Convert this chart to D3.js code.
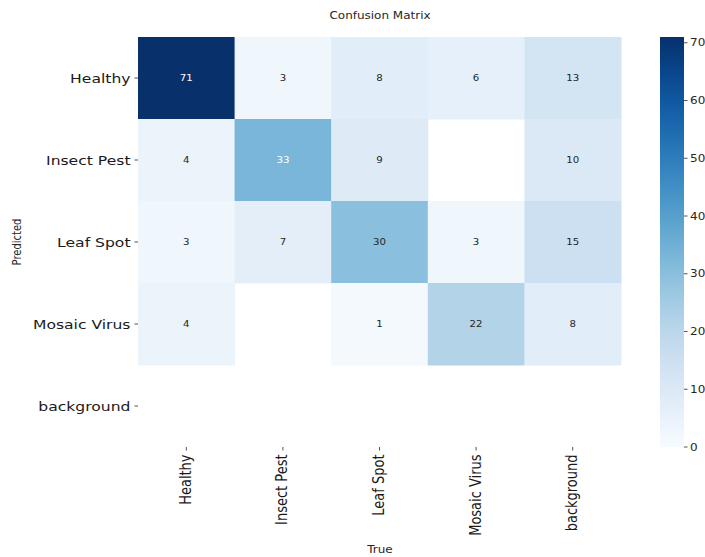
<!DOCTYPE html>
<html>
<head>
<meta charset="utf-8">
<script src="https://cdn.jsdelivr.net/npm/d3@7"></script>
<style>
  html, body { margin: 0; padding: 0; background: #fff; }
  text { font-family: "DejaVu Sans", sans-serif; }
</style>
</head>
<body>
<svg id="chart" width="705" height="557"></svg>
<script>
// ---- data ----
const predictedLabels = ["Healthy", "Insect Pest", "Leaf Spot", "Mosaic Virus", "background"];
const trueLabels = ["Healthy", "Insect Pest", "Leaf Spot", "Mosaic Virus", "background"];
// rows = Predicted, columns = True; null = 0 (masked / not drawn)
const rowHealthy     = [71, 3, 8, 6, 13];
const rowInsectPest  = [4, 33, 9, null, 10];
const rowLeafSpot    = [3, 7, 30, 3, 15];
const rowMosaicVirus = [4, null, 1, 22, 8];
const rowBackground  = [null, null, null, null, null];
const matrix = [rowHealthy, rowInsectPest, rowLeafSpot, rowMosaicVirus, rowBackground];
const colorbarTicks = [0, 10, 20, 30, 40, 50, 60, 70];
const vmin = 0, vmax = 71;

// ---- layout ----
const SX = 1.2; // horizontal stretch of text seen in the reference
const svg = d3.select("#chart");
const hm = { x0: 138, x1: 621, y0: 37, y1: 447 };
const cb = { x0: 660, x1: 684 };

const x = d3.scaleBand().domain(trueLabels).range([hm.x0, hm.x1]);
const y = d3.scaleBand().domain(predictedLabels).range([hm.y0, hm.y1]);
const color = d3.scaleSequential(d3.interpolateBlues).domain([vmin, vmax]);
const cy = d3.scaleLinear().domain([vmin, vmax]).range([hm.y1, hm.y0]);

function txt(g, tx, ty, rot) {
  return g.append("g")
    .attr("transform", `translate(${tx},${ty}) scale(${SX},1)` + (rot ? ` rotate(${rot})` : ""))
    .append("text");
}

function textColor(c) {
  const rgb = d3.rgb(c);
  const lin = v => { v /= 255; return v <= 0.03928 ? v / 12.92 : Math.pow((v + 0.055) / 1.055, 2.4); };
  const lum = 0.2126 * lin(rgb.r) + 0.7152 * lin(rgb.g) + 0.0722 * lin(rgb.b);
  return lum > 0.45 ? "#262626" : "#ffffff";
}

// ---- cells ----
const cells = [];
matrix.forEach((row, i) => row.forEach((v, j) => {
  if (v !== null && v !== 0) cells.push({ p: predictedLabels[i], t: trueLabels[j], v });
}));

const gCells = svg.append("g");
gCells.selectAll("rect").data(cells).enter().append("rect")
  .attr("x", d => x(d.t))
  .attr("y", d => y(d.p))
  .attr("width", x.bandwidth() + 0.5)
  .attr("height", y.bandwidth() + 0.5)
  .attr("fill", d => color(d.v));

cells.forEach(d => {
  txt(svg, x(d.t) + x.bandwidth() / 2, y(d.p) + y.bandwidth() / 2 + 3)
    .attr("text-anchor", "middle")
    .attr("font-size", 8.5)
    .attr("fill", textColor(color(d.v)))
    .text(d.v);
});

// ---- y axis (Predicted) ----
predictedLabels.forEach(l => {
  const yc = y(l) + y.bandwidth() / 2;
  svg.append("line").attr("x1", hm.x0 - 3.5).attr("x2", hm.x0).attr("y1", yc).attr("y2", yc)
    .attr("stroke", "#262626").attr("stroke-width", 0.8);
  txt(svg, hm.x0 - 7.5, yc + 4.5)
    .attr("text-anchor", "end").attr("font-size", 13).attr("fill", "#1a1a1a").text(l);
});

// ---- x axis (True) ----
trueLabels.forEach(l => {
  const xc = x(l) + x.bandwidth() / 2;
  svg.append("line").attr("x1", xc).attr("x2", xc).attr("y1", hm.y1).attr("y2", hm.y1 + 3.5)
    .attr("stroke", "#262626").attr("stroke-width", 0.8);
  txt(svg, xc + 4.5, hm.y1 + 7.5, -90)
    .attr("text-anchor", "end").attr("font-size", 13).attr("fill", "#1a1a1a").text(l);
});

// ---- axis titles ----
txt(svg, 380, 19)
  .attr("text-anchor", "middle").attr("font-size", 10).attr("fill", "#262626").text("Confusion Matrix");
txt(svg, 380, 553)
  .attr("text-anchor", "middle").attr("font-size", 10).attr("fill", "#262626").text("True");
txt(svg, 20.5, 242, -90)
  .attr("text-anchor", "middle").attr("font-size", 10).attr("fill", "#262626").text("Predicted");

// ---- colorbar ----
const defs = svg.append("defs");
const grad = defs.append("linearGradient").attr("id", "cbgrad")
  .attr("x1", 0).attr("y1", 1).attr("x2", 0).attr("y2", 0);
d3.range(0, 1.0001, 0.05).forEach(t => {
  grad.append("stop").attr("offset", t).attr("stop-color", color(vmin + t * (vmax - vmin)));
});
svg.append("rect").attr("x", cb.x0).attr("y", cy(vmax)).attr("width", cb.x1 - cb.x0)
  .attr("height", cy(vmin) - cy(vmax)).attr("fill", "url(#cbgrad)");

colorbarTicks.forEach(t => {
  svg.append("line").attr("x1", cb.x1).attr("x2", cb.x1 + 3.5).attr("y1", cy(t)).attr("y2", cy(t))
    .attr("stroke", "#262626").attr("stroke-width", 0.8);
  txt(svg, cb.x1 + 6, cy(t) + 3.5)
    .attr("text-anchor", "start").attr("font-size", 10).attr("fill", "#262626").text(t);
});
</script>
</body>
</html>
